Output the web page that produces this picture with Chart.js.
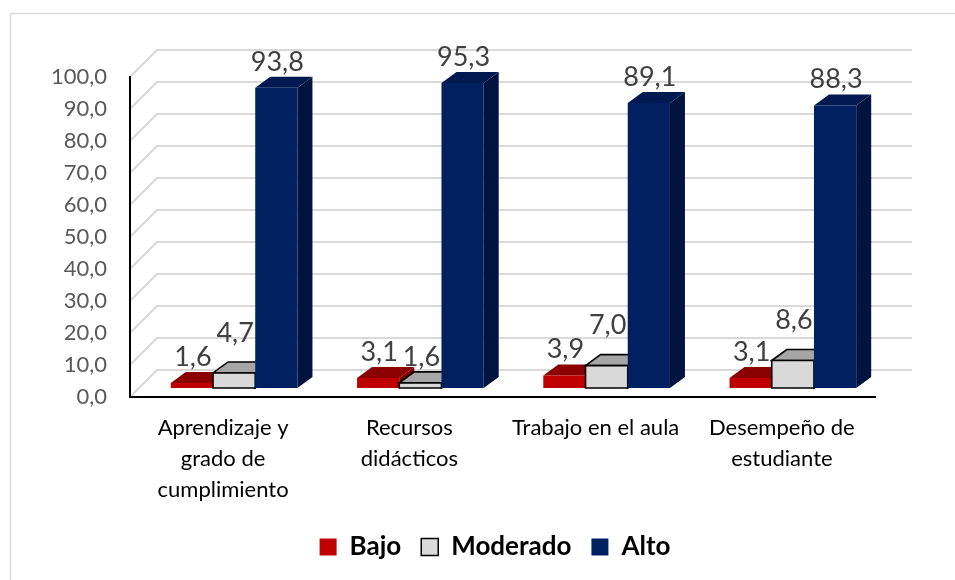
<!DOCTYPE html>
<html><head><meta charset="utf-8">
<script src="https://cdn.jsdelivr.net/npm/chart.js@4"></script>
<style>html,body{margin:0;padding:0;background:#fff}#wrap{width:955px;height:580px;position:relative}</style>
</head><body><div id="wrap"><canvas id="c" width="955" height="580"></canvas></div>
<script>
const categories = [["Aprendizaje y","grado de","cumplimiento"],["Recursos","didácticos"],"Trabajo en el aula",["Desempeño de","estudiante"]];
const seriesNames = ["Bajo","Moderado","Alto"];
const bajo = [1.6, 3.1, 3.9, 3.1];
const moderado = [4.7, 1.6, 7.0, 8.6];
const alto = [93.8, 95.3, 89.1, 88.3];
const yMin = 0, yMax = 100, yStep = 10;

const fmt = v => Number(v).toFixed(1).replace('.', ',');
const BAR_SHIFT = {x: 11, y: -9};
const BAR_DEPTH = {x: 15, y: -11};
const WALL = {x: 27, y: -27};
const FACES = [
  {front: '#c00000', top: '#8b0000', side: '#7a0000', stroke: null},
  {front: '#d9d9d9', top: '#a6a6a6', side: '#8c8c8c', stroke: '#000000'},
  {front: '#002060', top: '#001a4f', side: '#00143f', stroke: null}
];
const FONT = 'Lato, "Open Sans", sans-serif';

function poly(ctx, pts, fill, stroke) {
  ctx.beginPath();
  ctx.moveTo(pts[0][0], pts[0][1]);
  for (let k = 1; k < pts.length; k++) ctx.lineTo(pts[k][0], pts[k][1]);
  ctx.closePath();
  ctx.fillStyle = fill; ctx.fill();
  if (stroke) { ctx.strokeStyle = stroke; ctx.lineWidth = 1.6; ctx.stroke(); }
}

const bars3d = {
  id: 'bars3d',
  beforeDraw(chart) {
    const ctx = chart.ctx, a = chart.chartArea, y = chart.scales.y;
    ctx.save();
    ctx.fillStyle = '#fff'; ctx.fillRect(0, 0, chart.width, chart.height);
    ctx.strokeStyle = '#d9d9d9'; ctx.lineWidth = 1.5;
    ctx.strokeRect(10.5, 13.5, 1000, 1000);
    ctx.lineWidth = 2;
    y.ticks.forEach(t => {
      const py = y.getPixelForValue(t.value);
      ctx.beginPath();
      ctx.moveTo(a.left, py);
      ctx.lineTo(a.left + WALL.x, py + WALL.y);
      ctx.lineTo(a.right + WALL.x + 10, py + WALL.y);
      ctx.stroke();
    });
    ctx.restore();
  },
  beforeDatasetsDraw(chart) {
    const ctx = chart.ctx;
    const metas = chart.data.datasets.map((d, i) => chart.getDatasetMeta(i));
    const n = chart.data.labels.length;
    ctx.save();
    const labels = [];
    for (let j = 0; j < n; j++) {
      metas.forEach((m, i) => {
        const el = m.data[j];
        const w = el.width;
        const L = el.x - w / 2 + BAR_SHIFT.x, R = el.x + w / 2 + BAR_SHIFT.x;
        const T = el.y + BAR_SHIFT.y, B = el.base + BAR_SHIFT.y;
        const f = FACES[i];
        const dx = BAR_DEPTH.x, dy = BAR_DEPTH.y;
        poly(ctx, [[R, T], [R + dx, T + dy], [R + dx, B + dy], [R, B]], f.side, f.stroke);
        poly(ctx, [[L, T], [L + dx, T + dy], [R + dx, T + dy], [R, T]], f.top, f.stroke);
        poly(ctx, [[L, T], [R, T], [R, B], [L, B]], f.front, f.stroke);
        const v = chart.data.datasets[i].data[j];
        let off = 26;
        if (i === 1 && v > chart.data.datasets[0].data[j]) off = 40;
        labels.push({x: (L + R) / 2 + 1, y: T - off, t: fmt(v)});
      });
    }
    ctx.fillStyle = '#404040';
    ctx.font = '27px ' + FONT;
    ctx.textAlign = 'center'; ctx.textBaseline = 'middle';
    labels.forEach(l => ctx.fillText(l.t, l.x, l.y));
    ctx.restore();
    return false;
  }
};

const datasets = [bajo, moderado, alto].map((d, i) => ({
  label: seriesNames[i],
  data: d,
  backgroundColor: FACES[i].front,
  borderColor: FACES[i].stroke || FACES[i].front,
  borderWidth: FACES[i].stroke ? 1.5 : 0
}));

new Chart(document.getElementById('c'), {
  type: 'bar',
  data: {labels: categories, datasets},
  plugins: [bars3d],
  options: {
    responsive: false,
    animation: false,
    devicePixelRatio: 1,
    categoryPercentage: 0.68,
    barPercentage: 1.0,
    layout: {padding: {left: 35, right: 0, top: 77, bottom: 10}},
    plugins: {
      tooltip: {enabled: false},
      legend: {
        position: 'bottom',
        labels: {
          boxWidth: 17, boxHeight: 17, padding: 20,
          color: '#000', font: {family: FONT, size: 26, weight: 'bold'}
        }
      }
    },
    scales: {
      x: {
        grid: {display: false, drawTicks: false},
        border: {display: true, color: '#000', width: 2},
        ticks: {color: '#000', font: {family: FONT, size: 22, lineHeight: 1.4}, padding: 16, maxRotation: 0, autoSkip: false},
        afterFit(s) { s.height = 117; }
      },
      y: {
        min: yMin, max: yMax,
        grid: {display: false, drawTicks: false},
        border: {display: true, color: '#000', width: 2},
        ticks: {stepSize: yStep, color: '#595959', font: {family: FONT, size: 22}, padding: 23, callback: v => fmt(v)},
        afterFit(s) { s.width = 95; }
      },
      y2: {
        type: 'linear', position: 'right', display: true,
        grid: {display: false, drawTicks: false},
        border: {display: false},
        ticks: {display: false},
        afterFit(s) { s.width = 80; }
      }
    }
  }
});
</script></body></html>
